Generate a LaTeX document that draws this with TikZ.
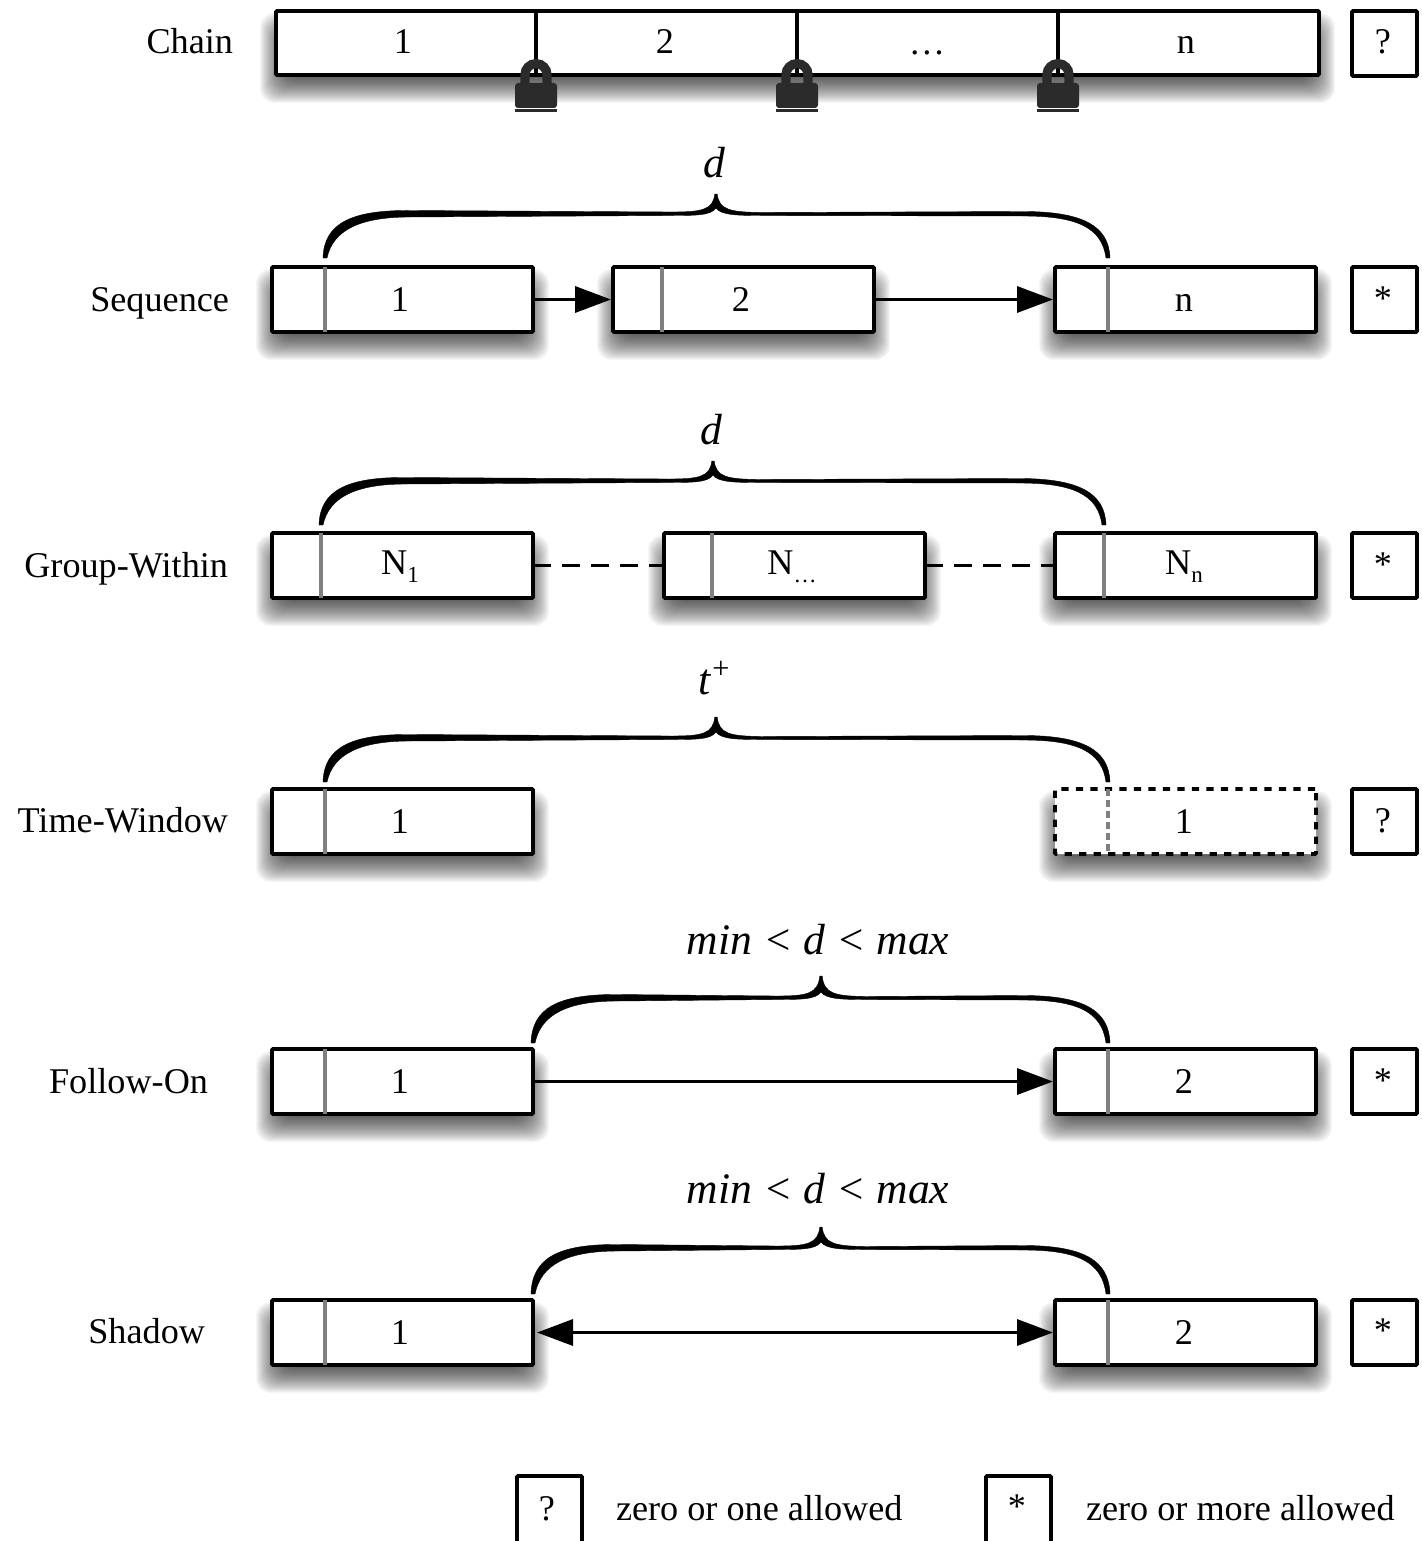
\documentclass[tikz,border=0pt]{standalone}
\usepackage{fontspec}
\setmainfont{Liberation Serif}
\usetikzlibrary{arrows.meta,calc}
\definecolor{lockc}{HTML}{2B2B2B}
\definecolor{divc}{HTML}{808080}
\tikzset{
 txt/.style={inner sep=0pt,outer sep=0pt,anchor=base,font=\fontsize{18.1}{20}\selectfont},
 itxt/.style={txt,font=\fontsize{21.8}{24}\selectfont\itshape},
 namelbl/.style={txt,anchor=base east},
 boxbase/.style={draw=black,line width=1.8pt,fill=white,inner sep=0pt,outer sep=0pt,rounded corners=0.5pt},
 cellbox/.style={boxbase,minimum width=130.5pt,minimum height=32.5pt},
 chainbox/.style={boxbase,minimum width=521.5pt,minimum height=32pt},
 quant/.style={boxbase,minimum width=32.5pt,minimum height=32.5pt},
 dotted box/.style={dash pattern=on 3.6pt off 3.65pt},
 divider/.style={draw=divc,line width=1.6pt},
 conn/.style={line width=1.7pt},
 dashconn/.style={line width=1.9pt,dash pattern=on 9pt off 5.5pt},
 solidhead/.style={-{Triangle[length=18pt,width=13pt]},shorten >=1pt},
 bothhead/.style={{Triangle[length=18pt,width=13pt]}-{Triangle[length=18pt,width=13pt]},shorten >=1pt,shorten <=2pt},
}
\newcommand\Nsub[1]{\raisebox{1.5pt}{N}\raisebox{-2.5pt}{\fontsize{11.5}{12}\selectfont #1}}
% soft drop shadow: #1,#2 = x range, #3,#4 = y range
\newcommand\softshadow[4]{%
 \foreach \r in {16,15,...,-16}{%
  \fill[black,opacity=0.035,rounded corners=7pt]
   ({#1-\r},{#3+18-\r}) rectangle ({#2+\r},{#4+12+\r});
 }%
}
% cell: name, x1, y1 (top), divider x, text x, text
\newcommand\cellrow[6]{%
 \softshadow{#2}{#2+261}{#3}{#3+65}
 \node[cellbox,anchor=north west] (#1) at (#2,#3) {};
 \draw[divider] ($(#1.north west)+(0,0)$) ++({#4-#2},0) -- ++(0,65);
 \node[txt] (#1t) at (#5,{#3+44}) {#6};
}
% tapered brace: left, tip x, right, tip y, flat y, end y
\newcommand\tbrace[6]{%
 \fill[black,draw=black,line width=0.2pt,line join=round]
  ({#1-2},#6) .. controls ({#1-1},{#5+10}) and ({#1+25},{#5-4}) .. ({#1+85},{#5-3.5})
  -- ({#2-45},{#5-2}) .. controls ({#2-14},{#5-2}) and ({#2-3},{#5-4}) .. ({#2-1.2},{#4+1})
  -- ({#2+1.2},{#4+1}) .. controls ({#2+3},{#5-4}) and ({#2+14},{#5-2}) .. ({#2+45},{#5-1.5})
  -- ({#3-85},{#5-2.5}) .. controls ({#3-25},{#5-2.5}) and ({#3+1},{#5+12}) .. ({#3+2},#6)
  -- ({#3-2},#6) .. controls ({#3-6},{#5+14}) and ({#3-30},{#5+2}) .. ({#3-85},{#5+2})
  -- ({#2+45},{#5+1.5}) .. controls ({#2+20},{#5+1.5}) and ({#2+5},{#5+1}) .. (#2,{#5-6})
  .. controls ({#2-5},{#5+1.5}) and ({#2-20},{#5+1.5}) .. ({#2-45},{#5+1.5})
  -- ({#1+85},{#5+3}) .. controls ({#1+35},{#5+3}) and ({#1+8},{#5+16}) .. ({#1+2},#6) -- cycle;
}
% padlock centred on x
\newcommand\padlock[1]{%
 \draw[lockc,line width=4.6pt] ({#1-11},85) -- ({#1-11},74.6) arc[start angle=180,end angle=360,radius=11] -- ({#1+11},85);
 \fill[lockc,rounded corners=1.5pt] ({#1-21},83) rectangle ({#1+21},108);
 \fill[lockc] ({#1-21},109.5) rectangle ({#1+21},112);
}
\begin{document}
\begin{tikzpicture}[x=0.5pt,y=-0.5pt]
\useasboundingbox (0,0) rectangle (1422,1541);
% ---- Chain
\softshadow{276}{1319}{11}{75}
\node[chainbox,anchor=north west] (chain) at (276,11) {};
\coordinate (c1t) at (536,11); \coordinate (c1b) at (536,75);
\coordinate (c2t) at (797,11); \coordinate (c2b) at (797,75);
\coordinate (c3t) at (1058,11); \coordinate (c3b) at (1058,75);
\draw[line width=1.8pt] (c1t) -- (c1b) (c2t) -- (c2b) (c3t) -- (c3b);
\padlock{536}\padlock{797}\padlock{1058}
\node[txt] (ct1) at (403,54) {1};
\node[txt] (ct2) at (665,54) {2};
\node[txt] (ct3) at (927,55) {…};
\node[txt] (ct4) at (1186,54) {n};
\node[namelbl] (lchain) at (233,54) {Chain};
\node[quant,anchor=north west] (q1) at (1352,11) {};
\node[txt] (q1t) at (1383,54) {?};
% ---- Sequence
\cellrow{sa}{272}{267}{325}{400}{1}
\cellrow{sb}{613}{267}{662}{741}{2}
\cellrow{sc}{1055}{267}{1108}{1184}{n}
\draw[conn,solidhead] (sa.east) -- (sb.west);
\draw[conn,solidhead] (sb.east) -- (sc.west);
\tbrace{325}{716}{1108}{193}{214}{258}
\node[itxt] (sd) at (714,177) {d};
\node[namelbl] (lseq) at (229,311) {Sequence};
\node[quant,anchor=north west] (q2) at (1352,267) {};
\node[txt] (q2t) at (1383,310) {*};
% ---- Group-Within
\cellrow{ga}{272}{533}{321}{400}{\Nsub{1}}
\cellrow{gb}{664}{533}{712}{792}{\Nsub{…}}
\cellrow{gc}{1055}{533}{1104}{1184}{\Nsub{n}}
\draw[dashconn] (ga.east) -- (gb.west);
\draw[dashconn] (gb.east) -- (gc.west);
\tbrace{321}{713}{1104}{460}{481}{525}
\node[itxt] (gd) at (711,444) {d};
\node[namelbl] (lgw) at (228,577) {Group-Within};
\node[quant,anchor=north west] (q3) at (1352,533) {};
\node[txt] (q3t) at (1383,576) {*};
% ---- Time-Window
\cellrow{ta}{272}{789}{325}{400}{1}
\softshadow{1055}{1316}{789}{854}
\node[cellbox,dotted box,anchor=north west] (tb) at (1055,789) {};
\draw[divider,dash pattern=on 3.5pt off 2pt] ($(tb.north west)+(53,0)$) -- ++(0,65);
\node[txt] (tbt) at (1184,833) {1};
\tbrace{325}{716}{1108}{716}{738}{782}
\node[itxt] (td) at (715,694) {t\textsuperscript{+}};
\node[namelbl] (ltw) at (228,832) {Time-Window};
\node[quant,anchor=north west] (q4) at (1352,789) {};
\node[txt] (q4t) at (1383,832) {?};
% ---- Follow-On
\cellrow{fa}{272}{1049}{325}{400}{1}
\cellrow{fb}{1055}{1049}{1108}{1184}{2}
\draw[conn,solidhead] (fa.east) -- (fb.west);
\tbrace{533}{821}{1108}{975}{998}{1043}
\node[itxt] (fd) at (818,954) {min < d < max};
\node[namelbl] (lfo) at (208,1093) {Follow-On};
\node[quant,anchor=north west] (q5) at (1352,1049) {};
\node[txt] (q5t) at (1383,1092) {*};
% ---- Shadow
\cellrow{ha}{272}{1300}{325}{400}{1}
\cellrow{hb}{1055}{1300}{1108}{1184}{2}
\draw[conn,bothhead] (ha.east) -- (hb.west);
\tbrace{533}{821}{1108}{1226}{1248}{1294}
\node[itxt] (hd) at (818,1203) {min < d < max};
\node[namelbl] (lsh) at (205,1343) {Shadow};
\node[quant,anchor=north west] (q6) at (1352,1300) {};
\node[txt] (q6t) at (1383,1342) {*};
% ---- Legend
\node[quant,anchor=north west,minimum height=34pt] (lq1) at (517,1476) {};
\node[txt] (lq1t) at (547,1520) {?};
\node[txt,anchor=base west] (lq1d) at (616,1520) {zero or one allowed};
\node[quant,anchor=north west,minimum height=34pt] (lq2) at (986,1476) {};
\node[txt] (lq2t) at (1017,1518) {*};
\node[txt,anchor=base west] (lq2d) at (1086,1520) {zero or more allowed};
\end{tikzpicture}
\end{document}
